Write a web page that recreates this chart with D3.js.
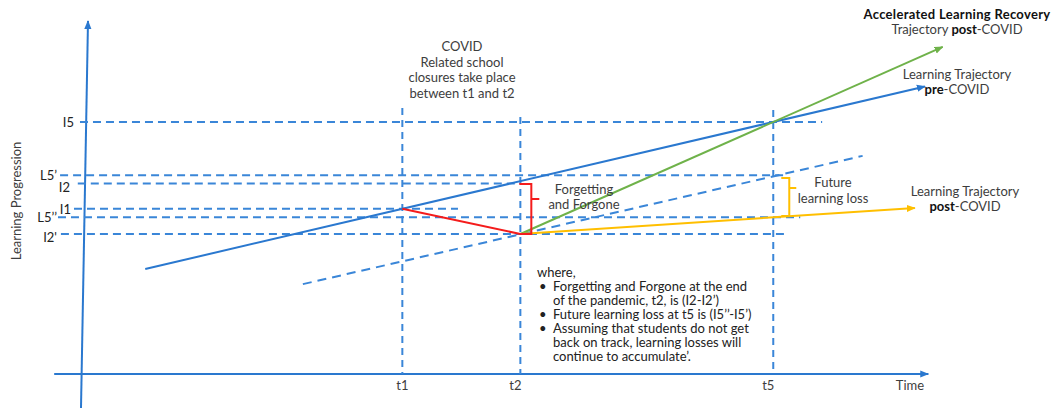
<!DOCTYPE html>
<html><head><meta charset="utf-8">
<script src="https://cdn.jsdelivr.net/npm/d3@7"></script>
<style>
body{margin:0;background:#fff;}
text{font-family:Lato,"Open Sans",sans-serif;}
</style></head>
<body><svg id="c" width="1060" height="409"></svg>
<script>
// ---- data (conceptual units) ----
const timeLabels = ["t1","t2","t5"];
const timeValues = [38, 52, 82];
const timeLineTop = [95, 91.8, 94.3];

const levelLabels = ["I5","L5\u2019","I2","I1","L5\u2019\u2019","I2'"];
const levelValues = [90, 71, 68, 59, 56, 50];
const levelFrom = [-0.24, -2.6, -0.5, -0.95, -2.85, -2.5];
const levelTo = [87.8, 83.3, 52.1, 44.6, 85.2, 83.7];

const preCovid = [[7.5, 37.5], [100, 102.7]];
const forgetting = [[38, 59], [52, 50]];
const accelerated = [[52, 50], [102.1, 116.8]];
const postCovid = [[52, 50], [98.8, 59.3]];
const shiftedPre = [[26.2, 32.1], [92.6, 77.9]];

const bracketRed = {x: 53.3, top: 67.9, bottom: 50, mid: 62.5};
const bracketYellow = {x: 83.9, top: 70, bottom: 56.4, mid: 66.4};

const notes = ["Forgetting and Forgone at the end", "of the pandemic, t2, is (I2-I2\u2019)",
  "Future learning loss at t5 is (I5\u2019\u2019-I5\u2019)", "Assuming that students do not get",
  "back on track, learning losses will", "continue to accumulate\u2019."];
const noteBullet = [true, false, true, true, false, false];

// ---- scales ----
const x = d3.scaleLinear().domain([0, 100]).range([82, 925]);
const y = d3.scaleLinear().domain([0, 100]).range([374, 94]);

const svg = d3.select("#c");
const BLUE = "#2a78cf", DBLUE = "#3a86d8", RED = "#f41c1c", GREEN = "#6fb24a", GOLD = "#ffbf00", TXT = "#3d3d3d";
const FS = 13;

const defs = svg.append("defs");
function marker(id, color) {
  defs.append("marker").attr("id", id).attr("viewBox", "0 0 10 10").attr("refX", 9).attr("refY", 5)
    .attr("markerWidth", 9).attr("markerHeight", 9).attr("markerUnits", "userSpaceOnUse").attr("orient", "auto")
    .append("path").attr("d", "M0,1 L10,5 L0,9 Z").attr("fill", color);
}
marker("aBlue", BLUE); marker("aGreen", GREEN); marker("aGold", GOLD);

const line = d3.line().x(d => x(d[0])).y(d => y(d[1]));

// axes
svg.append("line").attr("x1", 81).attr("y1", 408).attr("x2", 88).attr("y2", 21)
  .attr("stroke", BLUE).attr("stroke-width", 2).attr("marker-end", "url(#aBlue)");
svg.append("line").attr("x1", x(-3.3)).attr("y1", y(0)).attr("x2", x(100.4)).attr("y2", y(0))
  .attr("stroke", BLUE).attr("stroke-width", 2).attr("marker-end", "url(#aBlue)");

// level dashed lines
svg.selectAll(".lvl").data(levelValues).join("line").attr("class", "lvl")
  .attr("x1", (d, i) => x(levelFrom[i])).attr("x2", (d, i) => x(levelTo[i]))
  .attr("y1", d => y(d)).attr("y2", d => y(d))
  .attr("stroke", DBLUE).attr("stroke-width", 2).attr("stroke-dasharray", "8,5");

// level labels
svg.selectAll(".lvlt").data(levelLabels).join("text").attr("class", "lvlt")
  .attr("x", (d, i) => [74, 57, 70, 71, 57, 57][i])
  .attr("y", (d, i) => y(levelValues[i]) + [0, 0, 3, 0, 0, 3][i])
  .attr("text-anchor", "end").attr("dominant-baseline", "central")
  .attr("font-size", FS).attr("fill", "#222").text(d => d);

// time dashed lines
svg.selectAll(".tl").data(timeValues).join("line").attr("class", "tl")
  .attr("x1", d => x(d)).attr("x2", d => x(d))
  .attr("y1", (d, i) => y(timeLineTop[i])).attr("y2", y(0))
  .attr("stroke", DBLUE).attr("stroke-width", 2).attr("stroke-dasharray", "7,5");

svg.selectAll(".tt").data(timeLabels).join("text").attr("class", "tt")
  .attr("x", (d, i) => x(timeValues[i]) - (i === 0 ? 0 : 5)).attr("y", 390)
  .attr("text-anchor", "middle").attr("font-size", FS).attr("fill", TXT).text(d => d);
svg.append("text").attr("x", 910).attr("y", 390).attr("text-anchor", "middle")
  .attr("font-size", FS).attr("fill", TXT).text("Time");

// y axis title
svg.append("text").attr("transform", "translate(21,201) rotate(-90)").attr("text-anchor", "middle")
  .attr("font-size", FS).attr("fill", TXT).text("Learning Progression");

// trajectories
svg.append("path").attr("d", line(shiftedPre)).attr("fill", "none").attr("stroke", DBLUE)
  .attr("stroke-width", 2).attr("stroke-dasharray", "9,6");
svg.append("path").attr("d", line(preCovid)).attr("fill", "none").attr("stroke", BLUE)
  .attr("stroke-width", 2).attr("marker-end", "url(#aBlue)");
svg.append("path").attr("d", line(accelerated)).attr("fill", "none").attr("stroke", GREEN)
  .attr("stroke-width", 2).attr("marker-end", "url(#aGreen)");
svg.append("path").attr("d", line(postCovid)).attr("fill", "none").attr("stroke", GOLD)
  .attr("stroke-width", 2).attr("marker-end", "url(#aGold)");
svg.append("path").attr("d", line(forgetting)).attr("fill", "none").attr("stroke", RED).attr("stroke-width", 2);

// brackets
function bracket(b, color, left, right) {
  const bx = x(b.x);
  svg.append("path").attr("fill", "none").attr("stroke", color).attr("stroke-width", 2)
    .attr("d", `M${bx - left},${y(b.top)} H${bx} V${y(b.bottom)} H${bx - left} M${bx},${y(b.mid)} H${bx + right}`);
}
bracket(bracketRed, RED, 12, 8);
bracket(bracketYellow, GOLD, 8, 7);

// annotations
function block(lines, cx, y0, lh, opts = {}) {
  const t = svg.append("text").attr("text-anchor", "middle").attr("font-size", opts.size || FS).attr("fill", TXT);
  lines.forEach((l, i) => {
    const ts = t.append("tspan").attr("x", cx).attr("y", y0 + i * lh);
    l.forEach(seg => ts.append("tspan").attr("font-weight", seg[1] ? "bold" : null)
      .attr("letter-spacing", seg[3] || null)
      .attr("fill", seg[2] || null).text(seg[0]));
  });
}
block([[["COVID"]], [["Related school"]], [["closures take place"]], [["between t1 and t2"]]], 462, 51, 15.5);
block([[["Forgetting"]], [["and Forgone"]]], 584, 194, 15);
block([[["Future"]], [["learning loss"]]], 833, 187, 15.5);
block([[["Accelerated Learning Recovery", true, "#111", "0.3px"]], [["Trajectory "], ["post", true, "#111"], ["-COVID"]]], 957, 19, 15);
block([[["Learning Trajectory"]], [["pre", true, "#111"], ["-COVID"]]], 957, 79, 15);
block([[["Learning Trajectory"]], [["post", true, "#111"], ["-COVID"]]], 965, 196, 15);

svg.append("text").attr("x", 537).attr("y", 277).attr("font-size", FS).attr("fill", "#222").text("where,");
svg.selectAll(".note").data(notes).join("text").attr("class", "note")
  .attr("x", 553).attr("y", (d, i) => 291 + i * 14).attr("font-size", FS).attr("fill", "#222").text(d => d);
svg.selectAll(".bul").data(notes.filter((d, i) => noteBullet[i])).join("text").attr("class", "bul")
  .attr("x", 539).attr("y", (d) => 291 + notes.indexOf(d) * 14).attr("font-size", FS).attr("fill", "#222").text("\u2022");
</script></body></html>
